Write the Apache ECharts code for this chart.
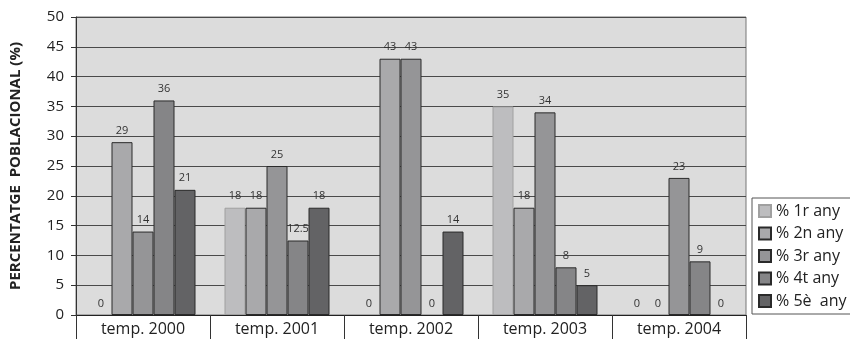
<!DOCTYPE html>
<html>
<head>
<meta charset="utf-8">
<script src="https://cdn.jsdelivr.net/npm/echarts@6/dist/echarts.min.js"></script>
<style>html,body{margin:0;padding:0;background:#fff}#c{width:850px;height:340px}</style>
</head>
<body>
<div id="c"></div>
<script>
const categories = ['temp. 2000', 'temp. 2001', 'temp. 2002', 'temp. 2003', 'temp. 2004'];
const seriesNames = ['% 1r any', '% 2n any', '% 3r any', '% 4t any', '% 5è  any'];
const s1 = [0, 18, 0, 35, 0];
const s2 = [29, 18, 43, 18, 0];
const s3 = [14, 25, 43, 34, 23];
const s4 = [36, 12.5, 0, 8, 9];
const s5 = [21, 18, 14, 5, 0];
const yTicks = [0, 5, 10, 15, 20, 25, 30, 35, 40, 45, 50];

const fills = ['#bdbdbf', '#a9a9ab', '#959597', '#858587', '#636365'];
const borders = ['#a0a0a0', '#2a2a2a', '#2a2a2a', '#2a2a2a', '#2a2a2a'];
const data = [s1, s2, s3, s4, s5];
const font = 'Open Sans';

const chart = echarts.init(document.getElementById('c'));
chart.setOption({
  animation: false,
  textStyle: { fontFamily: font },
  grid: { left: 76, right: 104, top: 17, bottom: 25, show: true, backgroundColor: '#dcdcdc', borderColor: '#777', borderWidth: 1 },
  legend: {
    orient: 'vertical', left: 752, top: 198,
    padding: [5, 4, 5, 6],
    itemWidth: 12, itemHeight: 12, itemGap: 6.5,
    borderColor: '#555', borderWidth: 1,
    textStyle: { fontSize: 16, color: '#222', fontFamily: font },
    data: seriesNames.map((n, i) => ({ name: n, icon: 'rect' }))
  },
  xAxis: {
    type: 'category', data: categories,
    axisLine: { lineStyle: { color: '#222', width: 1 } },
    axisTick: { show: true, length: 24, lineStyle: { color: '#333' } },
    axisLabel: { fontSize: 16, color: '#222', margin: 6 }
  },
  yAxis: {
    type: 'value', min: 0, max: 50, interval: 5,
    name: 'PERCENTATGE  POBLACIONAL (%)',
    nameLocation: 'middle', nameGap: 53, nameRotate: 90,
    nameTextStyle: { fontSize: 15, fontWeight: 'bold', color: '#222' },
    axisLine: { show: true, lineStyle: { color: '#333' } },
    axisTick: { show: true, length: 5, lineStyle: { color: '#333' } },
    axisLabel: { fontSize: 15, color: '#222', margin: 12, formatter: v => yTicks.includes(v) ? String(v) : '' },
    splitLine: { lineStyle: { color: '#4a4a4a', width: 1 } }
  },
  series: data.map((d, i) => ({
    name: seriesNames[i], type: 'bar',
    data: d.map(v => v === 0 ? { value: v, itemStyle: { borderWidth: 0 } } : v),
    barWidth: 21, barGap: '0%',
    itemStyle: { color: fills[i], borderColor: borders[i], borderWidth: 1 },
    label: { show: true, position: 'top', fontSize: 11, color: '#333', distance: 6 }
  }))
});
</script>
</body>
</html>
